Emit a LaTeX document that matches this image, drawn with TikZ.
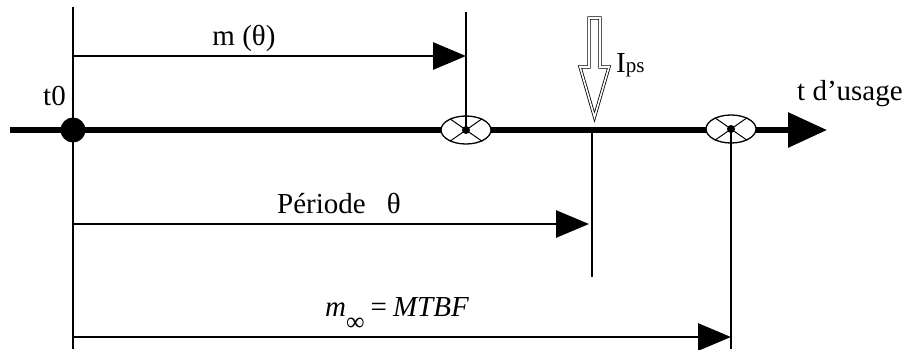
\documentclass[tikz,border=0pt]{standalone}
\usepackage{fontspec}
\setmainfont{Liberation Serif}
\usetikzlibrary{arrows.meta,shapes.geometric}
\begin{document}
\begin{tikzpicture}[x=1pt,y=-1pt,
  axisline/.style={line width=6pt,-{Triangle[length=39pt,width=34pt]}},
  dimarrow/.style={line width=2.8pt,-{Triangle[length=33pt,width=27pt]}},
  guide/.style={line width=1.6pt},
  lbl/.style={font=\fontsize{29}{32}\selectfont, inner sep=0pt},
  event/.style={ellipse, draw, fill=white, line width=1.3pt, minimum width=50pt, minimum height=28pt, inner sep=0pt},
  dot/.style={circle, fill=black, inner sep=0pt, minimum size=#1},
  hollowarrow/.style={draw, line width=0.8pt, double, double distance=1.6pt, line join=miter}]
\useasboundingbox (0,0) rectangle (912,349);
% named points
\coordinate (axS) at (10,130);
\coordinate (axE) at (827,130);
\coordinate (g0t) at (73,7);
\coordinate (g0b) at (73,349);
\coordinate (gmt) at (466,12);
\coordinate (gpb) at (592,277);
\coordinate (gfb) at (731,349);
\coordinate (gp) at (592,130);
\coordinate (mS) at (73,56);   \coordinate (mE) at (466,56);
\coordinate (pS) at (73,224);  \coordinate (pE) at (589,224);
\coordinate (fS) at (73,337);  \coordinate (fE) at (731,337);
% main axis
\draw[axisline] (axS) -- (axE);
% events
\node[event] (e1) at (466,130) {};
\node[event] (e2) at (731,129) {};
\foreach \e in {e1,e2}{
  \draw[line width=1pt] (\e.145) -- (\e.325);
  \draw[line width=1pt] (\e.35) -- (\e.215);
}
% guide lines
\draw[guide] (g0t) -- (g0b);
\draw[guide] (gmt) -- (e1.center);
\draw[guide] (gp) -- (gpb);
\draw[guide] (e2.center) -- (gfb);
\node[dot=8pt] at (e1.center) {};
\node[dot=8pt] at (e2.center) {};
\node[dot=25pt] (t0) at (73,130) {};
% dimension arrows
\draw[dimarrow] (mS) -- (mE);
\draw[dimarrow] (pS) -- (pE);
\draw[dimarrow] (fS) -- (fE);
% Ips hollow arrow
\draw[hollowarrow] (589,18) -- (600,18) -- (600,67) -- (609,67) -- (594.5,117) -- (580,67) -- (589,67) -- cycle;
% labels
\node[lbl, anchor=base] (lm) at (244,45) {m (θ)};
\node[lbl, anchor=base west] (lt0) at (43,105) {t0};
\node[lbl, anchor=base west] (lusage) at (797,100) {t d’usage};
\node[lbl, anchor=base west] (lips) at (616,72) {I{\fontsize{21}{21}\selectfont ps}};
\node[lbl, anchor=base west] (lper) at (277,213) {Période\hspace{21pt}θ};
\node[lbl, anchor=base west] (lmtbf) at (325,316) {\textit{m}\raisebox{-14pt}{\fontsize{26}{26}\selectfont ∞}\hspace{6pt}=\hspace{6pt}\textit{MTBF}};
\end{tikzpicture}
\end{document}
